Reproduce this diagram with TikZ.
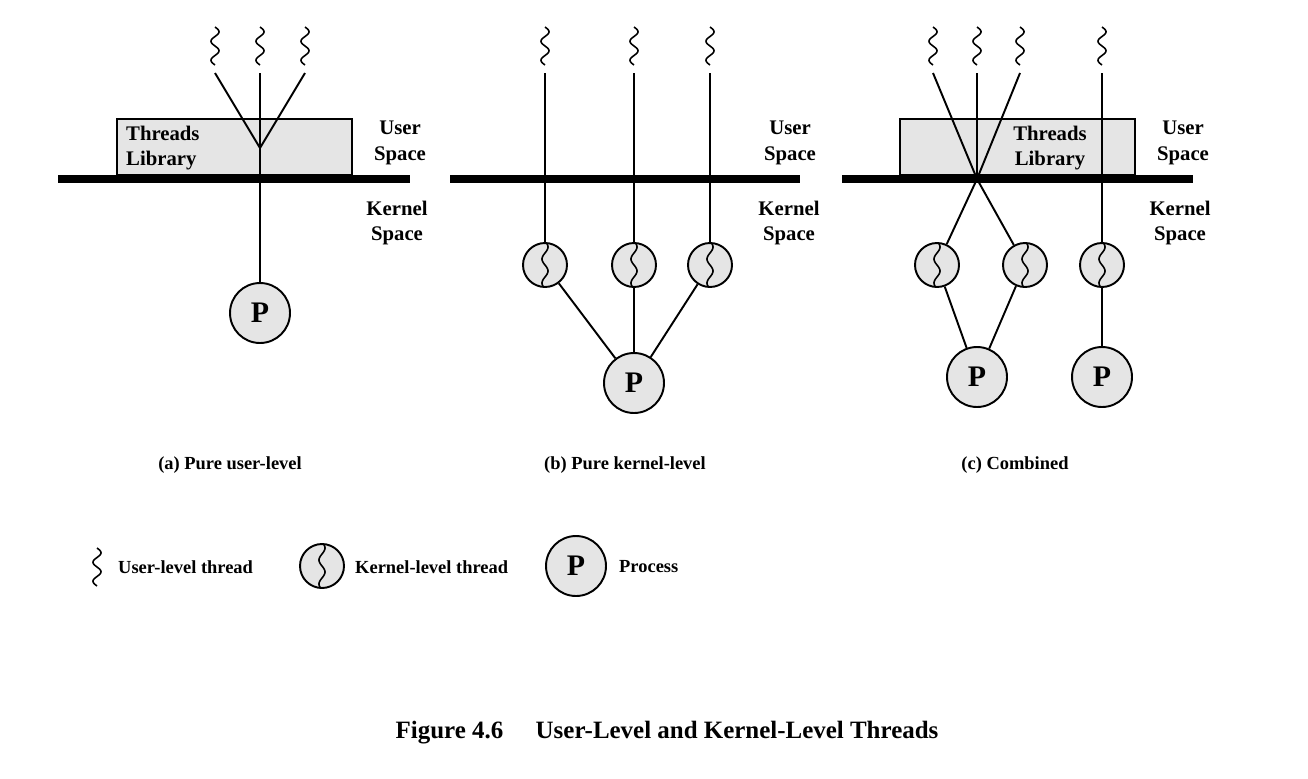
\documentclass[tikz,border=0pt]{standalone}
\usepackage{fontspec}
\setmainfont{Liberation Serif}
\usepackage{tikz}
\usetikzlibrary{positioning}
\tikzstyle{process} = [circle, draw=black, line width=1.1pt, fill=gray!20, minimum size=1.2cm, inner sep=0pt, font=\fontsize{17}{17}\selectfont\bfseries]
\tikzstyle{kthread} = [circle, draw=black, line width=1.1pt, fill=gray!20, minimum size=0.88cm, inner sep=0pt]
\tikzstyle{threadlib} = [rectangle, draw=black, line width=1.1pt, fill=gray!20, minimum width=4.7cm, minimum height=1.12cm]
\tikzstyle{spacelabel} = [align=center, font=\fontsize{11.8}{14.5}\selectfont\bfseries]
\tikzstyle{link} = [line width=1.1pt]
\tikzstyle{kbar} = [line width=4.5pt]
\tikzstyle{subcaption} = [font=\fontsize{10.5}{12}\selectfont\bfseries]
\tikzset{
  uwave/.pic={\draw[line width=0.9pt] plot[domain=0:38, samples=60, smooth] ({4*sin(\x*360/19)},\x);},
  kwave/.pic={\draw[line width=0.9pt] plot[domain=-22:22, samples=60, smooth] ({3*sin(\x*360/24)},\x);}
}

\begin{document}
\begin{tikzpicture}[x=0.02cm, y=-0.02cm]
\useasboundingbox (0,0) rectangle (1308,778);

% (a) pure user-level
\node (Library A)[threadlib] at (234.5,147){};
\node (Library A Text)[spacelabel, align=left, anchor=west] at (120,148){Threads\\Library};
\draw [kbar] (58,179) -- (410,179);
\foreach \u/\x in {1/215,2/260,3/305}{
  \pic at (\x,27) {uwave};
  \coordinate (User A\u) at (\x,73);
}
\coordinate (Join A) at (260,148);
\node (Process A)[process] at (260,313){P};
\draw [link] (User A1) -- (Join A);
\draw [link] (User A3) -- (Join A);
\draw [link] (User A2) -- (Process A);
\node (User A)[spacelabel] at (400,143){User\\Space};
\node (Kernel A)[spacelabel] at (397,223){Kernel\\Space};
\node (Caption A)[subcaption] at (230,465){(a) Pure user-level};

% (b) pure kernel-level
\draw [kbar] (450,179) -- (800,179);
\node (Process B)[process] at (634,383){P};
\foreach \u/\x in {1/545,2/634,3/710}{
  \pic at (\x,27) {uwave};
  \coordinate (User B\u) at (\x,73);
  \node (Kernel B\u)[kthread] at (\x,265){};
  \pic at (Kernel B\u) {kwave};
  \draw [link] (User B\u) -- (Kernel B\u);
  \draw [link] (Kernel B\u) -- (Process B);
}
\node (User B)[spacelabel] at (790,143){User\\Space};
\node (Kernel B)[spacelabel] at (789,223){Kernel\\Space};
\node (Caption B)[subcaption] at (625,465){(b) Pure kernel-level};

% (c) combined
\node (Library C)[threadlib] at (1017.5,147){};
\node (Library C Text)[spacelabel] at (1050,148){Threads\\Library};
\draw [kbar] (842,179) -- (1193,179);
\foreach \u/\x in {1/933,2/977,3/1020,4/1102}{
  \pic at (\x,27) {uwave};
  \coordinate (User C\u) at (\x,73);
}
\coordinate (Join C) at (977,179);
\node (Kernel C1)[kthread] at (937,265){};
\node (Kernel C2)[kthread] at (1025,265){};
\node (Kernel C3)[kthread] at (1102,265){};
\foreach \k in {1,2,3}{ \pic at (Kernel C\k) {kwave}; }
\node (Process C1)[process] at (977,377){P};
\node (Process C2)[process] at (1102,377){P};
\draw [link] (User C1) -- (Join C);
\draw [link] (User C2) -- (Join C);
\draw [link] (User C3) -- (Join C);
\draw [link] (Join C) -- (Kernel C1);
\draw [link] (Join C) -- (Kernel C2);
\draw [link] (User C4) -- (Kernel C3);
\draw [link] (Kernel C1) -- (Process C1);
\draw [link] (Kernel C2) -- (Process C1);
\draw [link] (Kernel C3) -- (Process C2);
\node (User C)[spacelabel] at (1183,143){User\\Space};
\node (Kernel C)[spacelabel] at (1180,223){Kernel\\Space};
\node (Caption C)[subcaption] at (1015,465){(c) Combined};

% legend
\pic at (97,548) {uwave};
\node (Legend User)[subcaption, anchor=west] at (112,567){User-level thread};
\node (Legend Kernel)[kthread] at (322,566){};
\pic at (Legend Kernel) {kwave};
\node (Legend Kernel Text)[subcaption, anchor=west] at (349,567){Kernel-level thread};
\node (Legend Process)[process] at (576,566){P};
\node (Legend Process Text)[subcaption, anchor=west] at (613,567){Process};

\node (Figure)[font=\fontsize{14.2}{17}\selectfont\bfseries] at (667,733){Figure 4.6\hspace{1.3em}User-Level and Kernel-Level Threads};
\end{tikzpicture}
\end{document}
